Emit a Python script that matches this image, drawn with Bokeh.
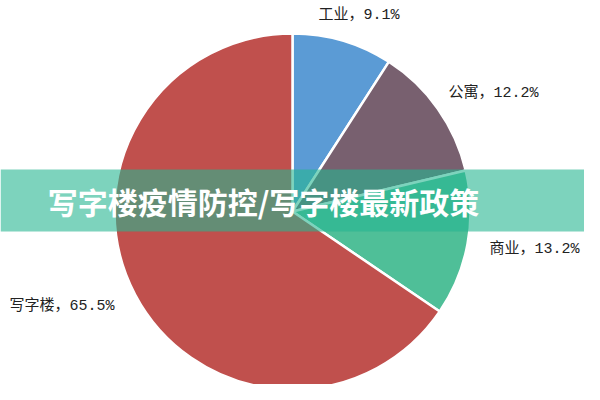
import math
from bokeh.plotting import figure
from bokeh.models import Range1d, ColumnDataSource
from bokeh.core.properties import value
from bokeh.embed import file_html
from bokeh.resources import INLINE

# data
categories = ["工业", "公寓", "商业", "写字楼"]
shares = [9.1, 12.2, 13.2, 65.5]
colors = ["#5b9bd5", "#78606f", "#4fbf98", "#c0504d"]
banner_text = "写字楼疫情防控/写字楼最新政策"

# layout (image pixel coords, y measured downward, converted below)
W, H = 600, 400
PW, PH = 584, 384
cx, cy_img, R = 292, 211, 178
label_pos = [(318, 15), (448, 93), (489, 249), (9, 306)]

p = figure(width=PW, height=PH, output_backend="svg", toolbar_location=None,
           x_range=Range1d(0, PW), y_range=Range1d(H - PH, H))
p.axis.visible = False
p.grid.visible = False
p.outline_line_color = None
p.min_border = 0
p.background_fill_color = "white"

total = sum(shares)
starts, ends = [], []
a = math.pi / 2
for s in shares:
    starts.append(a)
    a -= s / total * 2 * math.pi
    ends.append(a)

src = ColumnDataSource(dict(start=starts, end=ends, color=colors))
p.wedge(x=cx, y=H - cy_img, radius=R, start_angle="start", end_angle="end",
        direction="clock", fill_color="color", line_color="white", line_width=2.5,
        source=src)

labels = [f"{c}，{v}%" for c, v in zip(categories, shares)]
lsrc = ColumnDataSource(dict(x=[lp[0] for lp in label_pos],
                             y=[H - lp[1] for lp in label_pos], text=labels))
p.text(x="x", y="y", text="text", source=lsrc,
       text_font=value("'Liberation Mono', 'Noto Sans CJK SC'"),
       text_font_size="15px", text_color="#222222", text_baseline="middle",
       text_align="left")

# banner
p.quad(left=0, right=W, bottom=H - 231, top=H - 169, fill_color="#26b691",
       fill_alpha=0.6, line_color=None)
p.text(x=[263], y=[H - 200], text=[banner_text], text_font=value("Noto Sans CJK SC"),
       text_font_style="bold", text_font_size="30px", text_color="white",
       text_align="center", text_baseline="middle")

open("out.html", "w").write(file_html(p, INLINE))
